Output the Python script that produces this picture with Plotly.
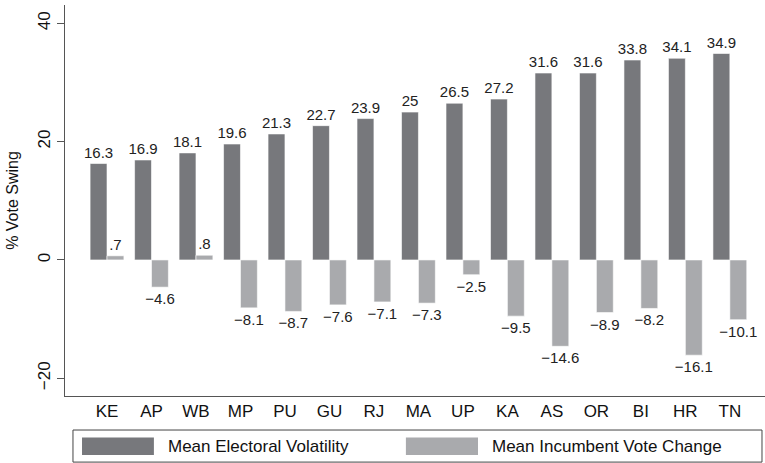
import plotly.graph_objects as go

states = ["KE", "AP", "WB", "MP", "PU", "GU", "RJ", "MA", "UP", "KA", "AS", "OR", "BI", "HR", "TN"]
volatility = [16.3, 16.9, 18.1, 19.6, 21.3, 22.7, 23.9, 25, 26.5, 27.2, 31.6, 31.6, 33.8, 34.1, 34.9]
incumbent = [0.7, -4.6, 0.8, -8.1, -8.7, -7.6, -7.1, -7.3, -2.5, -9.5, -14.6, -8.9, -8.2, -16.1, -10.1]
y_ticks = [-20, 0, 20, 40]
series_names = ["Mean Electoral Volatility", "Mean Incumbent Vote Change"]

DARK = "#77787c"
LIGHT = "#a9aaad"
FONT = "Liberation Sans, Arial, sans-serif"


def fmt(v):
    s = f"{v:g}"
    if s.startswith("0."):
        s = s[1:]
    if s.startswith("-0."):
        s = "-" + s[2:]
    return s.replace("-", "\u2212")


fig = go.Figure()
fig.add_trace(go.Bar(
    x=states, y=volatility, name=series_names[0],
    marker=dict(color=DARK, line=dict(color="#ffffff", width=0.6)),
    text=[fmt(v) for v in volatility], textposition="outside", constraintext="none",
    textfont=dict(size=15, color="#222222", family=FONT), cliponaxis=False,
))
fig.add_trace(go.Bar(
    x=states, y=incumbent, name=series_names[1],
    marker=dict(color=LIGHT, line=dict(color="#ffffff", width=0.6)),
    text=[fmt(v) for v in incumbent], textposition="outside", constraintext="none",
    textfont=dict(size=15, color="#222222", family=FONT), cliponaxis=False,
))

fig.update_layout(
    width=765, height=463,
    margin=dict(l=65, r=0, t=5, b=67),
    paper_bgcolor="white", plot_bgcolor="white",
    barmode="group", bargap=0.24, bargroupgap=0,
    showlegend=False,
    font=dict(family=FONT, color="#222222"),
    xaxis=dict(
        range=[-0.944, 14.79], showline=True, linecolor="#555555", linewidth=1,
        ticks="", tickfont=dict(size=17, color="#111111"), showgrid=False, zeroline=False,
    ),
    yaxis=dict(
        range=[-23.0, 43.1], tickvals=y_ticks, ticks="outside", ticklen=7,
        tickcolor="#555555", showline=True, linecolor="#555555", linewidth=1,
        tickangle=-90, tickfont=dict(size=17, color="#111111"),
        showgrid=False, zeroline=False,
        title=dict(text="% Vote Swing", font=dict(size=16, color="#111111"), standoff=12),
    ),
)

# legend box
fig.add_shape(type="rect", xref="paper", yref="paper", x0=0.0114, x1=0.9957, y0=-0.169, y1=-0.087,
              line=dict(color="#444444", width=1), fillcolor="white")
fig.add_shape(type="rect", xref="paper", yref="paper", x0=0.0243, x1=0.127, y0=-0.151, y1=-0.106,
              line=dict(width=0), fillcolor=DARK)
fig.add_shape(type="rect", xref="paper", yref="paper", x0=0.487, x1=0.590, y0=-0.151, y1=-0.106,
              line=dict(width=0), fillcolor=LIGHT)
fig.add_annotation(xref="paper", yref="paper", x=0.1443, y=-0.128, text=series_names[0],
                   showarrow=False, xanchor="left", yanchor="middle",
                   font=dict(size=17, color="#111111"))
fig.add_annotation(xref="paper", yref="paper", x=0.607, y=-0.128, text=series_names[1],
                   showarrow=False, xanchor="left", yanchor="middle",
                   font=dict(size=17, color="#111111"))

fig.write_html("out.html", config={"displayModeBar": False},
               post_script="document.body.style.margin='0';")
